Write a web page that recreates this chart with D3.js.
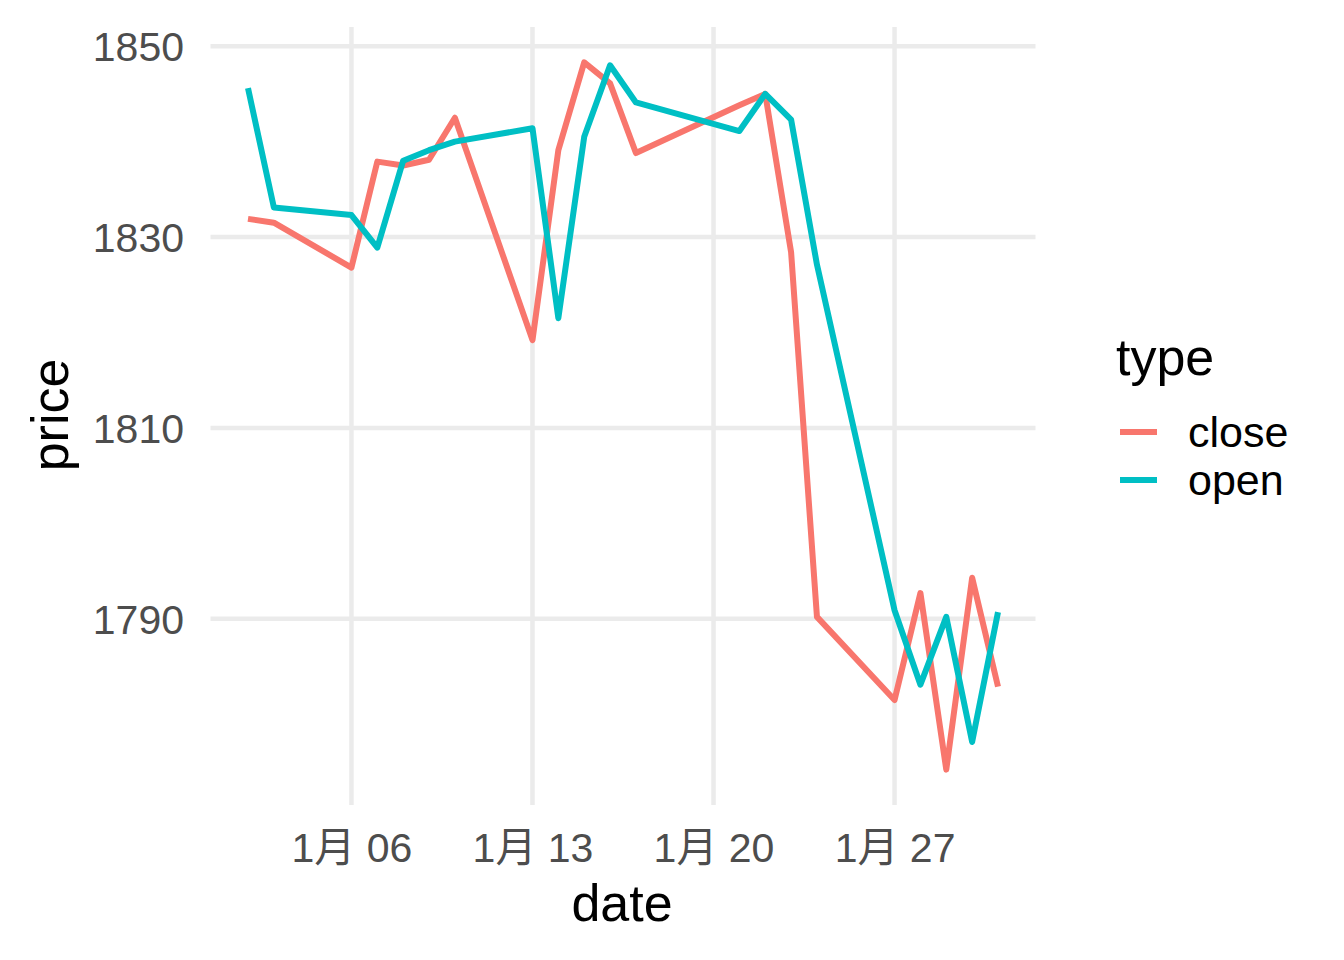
<!DOCTYPE html>
<html>
<head>
<meta charset="utf-8">
<script src="https://cdn.jsdelivr.net/npm/d3@7/dist/d3.min.js"></script>
<style>
  body { margin: 0; background: #fff; }
  svg { display: block; }
</style>
</head>
<body>
<svg id="chart" width="1344" height="960"></svg>
<script>
const dates = ["2020-01-02","2020-01-03","2020-01-06","2020-01-07","2020-01-08","2020-01-09","2020-01-10",
  "2020-01-13","2020-01-14","2020-01-15","2020-01-16","2020-01-17","2020-01-21","2020-01-22","2020-01-23",
  "2020-01-24","2020-01-27","2020-01-28","2020-01-29","2020-01-30","2020-01-31"];
const closeValues = [1831.9,1831.5,1826.8,1837.9,1837.5,1838.1,1842.5,1819.2,1839.1,1848.3,1846.1,1838.8,
  1843.8,1845.0,1828.4,1790.2,1781.5,1792.7,1774.2,1794.3,1782.9];
const openValues = [1845.6,1833.1,1832.3,1828.9,1838.0,1839.1,1840.0,1841.4,1821.5,1840.5,1848.0,1844.1,
  1841.1,1845.0,1842.3,1827.1,1790.9,1783.1,1790.2,1777.1,1790.7];
const seriesNames = ["close","open"];
const seriesColors = ["#F8766D","#00BFC4"];
const yTicks = [1790,1810,1830,1850];
const xTickDates = ["2020-01-06","2020-01-13","2020-01-20","2020-01-27"];

const parse = d3.utcParse("%Y-%m-%d");
const fmt = d3.utcFormat("%-m月 %d");
const series = [
  {name: seriesNames[0], color: seriesColors[0], values: dates.map((d,i)=>({date: parse(d), v: closeValues[i]}))},
  {name: seriesNames[1], color: seriesColors[1], values: dates.map((d,i)=>({date: parse(d), v: openValues[i]}))}
];

const plot = {left: 210.5, right: 1035.5, top: 27, bottom: 805};
const svg = d3.select("#chart");

const xExt = d3.extent(dates.map(parse));
const xPad = (xExt[1]-xExt[0])*0.05;
const x = d3.scaleUtc().domain([new Date(+xExt[0]-xPad), new Date(+xExt[1]+xPad)]).range([plot.left, plot.right]);
const allV = closeValues.concat(openValues);
const yExt = d3.extent(allV);
const yPad = (yExt[1]-yExt[0])*0.05;
const y = d3.scaleLinear().domain([yExt[0]-yPad, yExt[1]+yPad]).range([plot.bottom, plot.top]);

const font = "'Liberation Sans', Arial, 'Noto Sans CJK SC', sans-serif";
const gridColor = "#EBEBEB";

// grid
const g = svg.append("g");
g.selectAll(".hy").data(yTicks).enter().append("line")
  .attr("x1", plot.left).attr("x2", plot.right)
  .attr("y1", d=>y(d)).attr("y2", d=>y(d))
  .attr("stroke", gridColor).attr("stroke-width", 4.5);
g.selectAll(".vx").data(xTickDates.map(parse)).enter().append("line")
  .attr("x1", d=>x(d)).attr("x2", d=>x(d))
  .attr("y1", plot.top).attr("y2", plot.bottom)
  .attr("stroke", gridColor).attr("stroke-width", 4.5);

// axes (text only)
const yAxis = d3.axisLeft(y).tickValues(yTicks).tickSize(0).tickPadding(0).tickFormat(d3.format("d"));
const ya = svg.append("g").attr("transform", `translate(${184},0)`).call(yAxis);
ya.select(".domain").remove();
ya.selectAll("text").attr("font-family", font).attr("font-size", 41).attr("fill", "#4D4D4D").attr("dy", "0.36em");

const xAxis = d3.axisBottom(x).tickValues(xTickDates.map(parse)).tickSize(0).tickPadding(0).tickFormat(fmt);
const xa = svg.append("g").attr("transform", `translate(0,${862})`).call(xAxis);
xa.select(".domain").remove();
xa.selectAll("text").attr("font-family", font).attr("font-size", 41).attr("fill", "#4D4D4D").attr("dy", 0);

// lines
const line = d3.line().x(d=>x(d.date)).y(d=>y(d.v));
svg.append("g").selectAll("path").data(series).enter().append("path")
  .attr("d", d=>line(d.values))
  .attr("fill", "none").attr("stroke", d=>d.color)
  .attr("stroke-width", 6).attr("stroke-linejoin", "round").attr("stroke-linecap", "butt");

// axis titles
svg.append("text").attr("x", 622).attr("y", 921).attr("text-anchor", "middle")
  .attr("font-family", font).attr("font-size", 52).attr("fill", "#000").text("date");
svg.append("text").attr("transform", `translate(68,${415}) rotate(-90)`).attr("text-anchor", "middle")
  .attr("font-family", font).attr("font-size", 52).attr("fill", "#000").text("price");

// legend
const lg = svg.append("g");
lg.append("text").attr("x", 1116).attr("y", 375).attr("font-family", font).attr("font-size", 52).attr("fill", "#000").text("type");
series.forEach((s,i)=>{
  const cy = 432 + i*48;
  lg.append("line").attr("x1", 1120).attr("x2", 1157).attr("y1", cy).attr("y2", cy)
    .attr("stroke", s.color).attr("stroke-width", 6);
  lg.append("text").attr("x", 1188).attr("y", cy + 15).attr("font-family", font).attr("font-size", 43)
    .attr("fill", "#000").text(s.name);
});
</script>
</body>
</html>
